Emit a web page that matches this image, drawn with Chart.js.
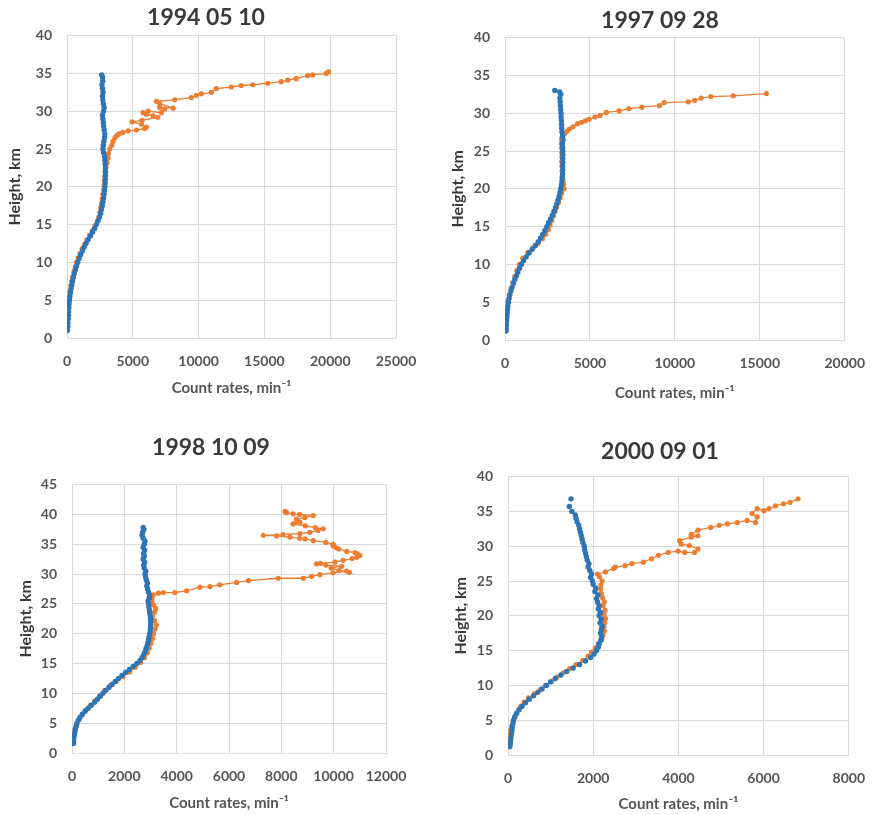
<!DOCTYPE html>
<html>
<head>
<meta charset="utf-8">
<script src="https://cdn.jsdelivr.net/npm/chart.js@4.4.1/dist/chart.umd.min.js"></script>
<style>
	body { margin: 0; background: #fff; }
	canvas { position: absolute; }
</style>
</head>
<body>
<canvas id="p1" width="440" height="410" style="left:0;top:0"></canvas>
<canvas id="p2" width="440" height="410" style="left:440px;top:0"></canvas>
<canvas id="p3" width="440" height="405" style="left:0;top:410px"></canvas>
<canvas id="p4" width="440" height="405" style="left:440px;top:410px"></canvas>
<script>
// [height km, count rate min-1]
const blue1994 = [[1.0,40],[1.5,60],[2.0,70],[2.5,90],[3.0,110],[3.5,120],[4.0,140],[4.5,160],[5.0,190],[5.5,220],[6.0,260],[6.5,310],[7.0,360],[7.5,420],[8.0,480],[8.5,550],[9.0,630],[9.5,720],[10.0,810],[10.5,920],[11.0,1040],[11.5,1170],[12.0,1300],[12.5,1450],[13.0,1600],[13.5,1770],[14.0,1940],[14.5,2100],[15.0,2230],[15.5,2360],[16.0,2470],[16.5,2560],[17.0,2620],[17.5,2680],[18.0,2730],[18.5,2780],[19.0,2820],[19.5,2850],[20.0,2880],[20.5,2900],[21.0,2910],[21.5,2920],[22.0,2930],[22.5,2920],[23.0,2900],[23.5,2880],[24.0,2850],[24.5,2780],[25.0,2730],[25.5,2760],[26.0,2800],[26.5,2850],[27.0,2870],[27.5,2820],[28.0,2780],[28.5,2760],[29.0,2720],[29.5,2700],[30.0,2780],[30.5,2820],[31.0,2760],[31.5,2720],[32.0,2700],[32.5,2740],[33.0,2700],[33.5,2660],[34.0,2720],[34.5,2700],[34.8,2640]];
const orange1994 = [[2.2,20],[2.8,40],[3.5,70],[4.2,100],[4.9,130],[5.5,170],[6.2,230],[6.9,300],[7.5,360],[8.1,430],[8.8,530],[9.4,620],[10.0,730],[10.6,850],[11.2,990],[11.8,1150],[12.4,1330],[13.0,1520],[13.6,1720],[14.2,1920],[14.8,2120],[15.4,2300],[16.0,2420],[16.6,2500],[17.2,2560],[17.8,2620],[18.4,2680],[19.0,2730],[19.6,2780],[20.2,2820],[20.8,2850],[21.4,2880],[22.0,2900],[22.6,2950],[23.2,3050],[23.8,3120],[24.4,3150],[25.0,3250],[25.5,3400],[26.0,3500],[26.5,3650],[26.8,3800],[27.0,3950],[27.2,4250],[27.4,4650],[27.5,5280],[27.7,5900],[27.9,6040],[28.3,5650],[28.6,4950],[28.8,5700],[29.2,6900],[29.4,6540],[29.6,6040],[29.8,5780],[30.0,6160],[29.8,7180],[30.3,7430],[30.5,7050],[30.4,8060],[31.0,7050],[31.3,6800],[31.5,8190],[31.8,9450],[32.1,9830],[32.3,10210],[32.5,10970],[33.0,11350],[33.2,12480],[33.4,13240],[33.5,14120],[33.7,15260],[33.9,16270],[34.1,16780],[34.3,17410],[34.7,18290],[34.8,18670],[35.0,19690],[35.2,19880]];

const blue1997 = [[1.2,60],[1.5,70],[2.0,80],[2.5,100],[3.0,110],[3.5,130],[4.0,150],[4.5,170],[5.0,200],[5.5,240],[6.0,290],[6.5,350],[7.0,420],[7.5,500],[8.0,580],[8.5,670],[9.0,760],[9.5,860],[10.0,970],[10.5,1100],[11.0,1250],[11.5,1420],[12.0,1600],[12.5,1790],[13.0,1960],[13.5,2100],[14.0,2230],[14.5,2350],[15.0,2460],[15.5,2570],[16.0,2680],[16.5,2790],[17.0,2880],[17.5,2970],[18.0,3050],[18.5,3120],[19.0,3180],[19.5,3230],[20.0,3280],[20.5,3320],[21.0,3350],[21.5,3370],[22.0,3390],[22.5,3400],[23.0,3400],[23.5,3410],[24.0,3400],[24.5,3410],[25.0,3400],[25.5,3390],[26.0,3380],[26.5,3420],[27.0,3390],[27.5,3350],[28.0,3340],[28.5,3330],[29.0,3320],[29.5,3300],[30.0,3300],[30.5,3280],[31.0,3260],[31.5,3250],[32.0,3230],[32.5,3280],[32.8,3220],[33.0,2930]];
const orange1997 = [[1.3,20],[2.0,30],[2.8,50],[3.6,80],[4.4,120],[5.2,180],[6.0,260],[6.8,360],[7.6,460],[8.4,580],[9.2,700],[10.0,850],[10.8,1050],[11.6,1350],[12.2,1650],[12.8,1950],[13.4,2200],[14.0,2400],[14.6,2550],[15.2,2650],[15.8,2750],[16.4,2850],[17.0,2950],[17.6,3050],[18.2,3150],[18.8,3250],[19.4,3330],[20.0,3480],[20.6,3450],[21.2,3420],[21.8,3380],[22.4,3360],[23.0,3350],[23.6,3340],[24.2,3350],[24.8,3340],[25.4,3330],[26.0,3320],[26.6,3330],[27.0,3380],[27.3,3500],[27.6,3650],[27.9,3790],[28.2,4000],[28.6,4260],[28.8,4500],[29.0,4730],[29.2,4950],[29.5,5300],[29.7,5600],[30.1,5960],[30.3,6720],[30.6,7290],[30.8,8050],[31.0,9090],[31.4,9370],[31.5,10790],[31.7,11170],[32.0,11550],[32.2,12120],[32.3,13440],[32.6,15390]];

const blue1998 = [[1.6,50],[2.0,60],[2.5,70],[3.0,90],[3.5,110],[4.0,130],[4.5,160],[5.0,190],[5.5,240],[6.0,310],[6.5,400],[7.0,500],[7.5,620],[8.0,740],[8.5,860],[9.0,970],[9.5,1080],[10.0,1180],[10.5,1290],[11.0,1410],[11.5,1530],[12.0,1650],[12.5,1780],[13.0,1910],[13.5,2050],[14.0,2190],[14.5,2340],[15.0,2480],[15.5,2600],[16.0,2680],[16.5,2740],[17.0,2790],[17.5,2830],[18.0,2870],[18.5,2900],[19.0,2930],[19.5,2950],[20.0,2970],[20.5,2990],[21.0,3000],[21.5,3010],[22.0,3010],[22.5,3000],[23.0,2990],[23.5,2970],[24.0,2960],[24.5,2940],[25.0,2930],[25.5,2910],[26.0,2950],[26.5,2970],[27.0,2920],[27.5,2890],[28.0,2860],[28.5,2880],[29.0,2840],[29.5,2810],[30.0,2790],[30.5,2820],[31.0,2760],[31.5,2740],[32.0,2780],[32.5,2720],[33.0,2760],[33.5,2740],[34.0,2780],[34.5,2720],[35.0,2760],[35.5,2790],[36.0,2720],[36.5,2680],[37.0,2700],[37.5,2750],[37.8,2720]];
const orange1998 = [[1.8,30],[2.5,50],[3.2,80],[4.0,120],[4.8,180],[5.6,270],[6.4,380],[7.2,520],[8.0,700],[8.8,880],[9.6,1050],[10.4,1230],[11.2,1440],[12.0,1690],[12.8,1950],[13.6,2200],[14.4,2420],[15.2,2620],[16.0,2770],[16.8,2880],[17.6,2950],[18.4,3020],[19.2,3080],[20.0,3120],[20.8,3180],[21.5,3230],[22.2,3150],[23.0,3080],[23.6,3150],[24.2,3200],[24.8,3120],[25.4,3050],[26.0,3060],[26.5,3100],[26.8,3300],[26.9,3490],[26.9,3930],[27.2,4380],[27.8,4890],[27.9,5270],[28.2,5650],[28.6,6290],[28.9,6740],[29.3,7880],[29.3,8840],[29.6,9160],[29.9,9470],[30.2,9980],[30.5,10490],[30.3,10600],[30.6,10200],[31.0,9900],[31.3,10300],[31.5,9700],[31.7,9350],[31.8,9500],[32.0,10050],[32.3,10360],[32.6,10700],[32.8,10880],[33.1,11000],[33.4,10900],[33.6,10810],[33.8,10500],[34.2,10200],[34.4,10110],[34.7,9980],[35.0,9980],[35.3,9700],[35.6,9220],[35.9,8900],[36.0,8700],[36.2,8330],[36.4,7820],[36.5,7310],[36.6,8070],[36.8,8710],[37.0,9090],[37.3,9400],[37.6,9600],[37.8,9300],[38.1,8920],[38.4,8450],[38.7,8710],[39.0,8600],[39.2,8580],[39.5,8900],[39.8,9220],[40.0,8700],[40.1,8450],[40.3,8200],[40.5,8140]];

const blue2000 = [[1.2,40],[1.5,50],[2.0,60],[2.5,70],[3.0,80],[3.5,90],[4.0,100],[4.5,115],[5.0,130],[5.5,160],[6.0,200],[6.5,260],[7.0,330],[7.5,410],[8.0,500],[8.5,600],[9.0,700],[9.5,800],[10.0,900],[10.5,1000],[11.0,1110],[11.5,1240],[12.0,1380],[12.5,1530],[13.0,1680],[13.5,1820],[14.0,1940],[14.5,2020],[15.0,2080],[15.5,2120],[16.0,2130],[16.5,2180],[17.0,2200],[17.5,2170],[18.0,2190],[18.5,2210],[19.0,2160],[19.5,2190],[20.0,2140],[20.5,2170],[21.0,2120],[21.5,2140],[22.0,2100],[22.5,2080],[23.0,2110],[23.5,2040],[24.0,2060],[24.5,2000],[25.0,1980],[25.5,1940],[26.0,1960],[26.5,1920],[27.0,1880],[27.5,1900],[28.0,1860],[28.5,1840],[29.0,1820],[29.5,1800],[30.0,1790],[30.5,1760],[31.0,1740],[31.5,1720],[32.0,1700],[32.5,1680],[33.0,1660],[33.5,1620],[34.0,1600],[34.5,1580],[35.0,1500],[35.7,1440],[36.8,1480]];
const orange2000 = [[1.5,30],[2.2,40],[3.0,50],[3.6,70],[4.2,90],[4.8,120],[5.4,160],[6.0,210],[6.6,260],[7.0,300],[7.6,380],[8.2,480],[8.8,620],[9.4,760],[10.0,880],[10.6,1020],[11.2,1150],[11.8,1300],[12.4,1450],[13.0,1600],[13.6,1760],[14.2,1880],[14.8,1960],[15.4,2050],[16.0,2150],[16.6,2200],[17.2,2230],[17.8,2260],[18.4,2250],[19.0,2270],[19.6,2290],[20.2,2250],[20.8,2280],[21.4,2230],[22.0,2260],[22.6,2220],[23.2,2190],[23.8,2170],[24.4,2180],[25.0,2210],[25.6,2150],[26.0,2100],[26.3,2290],[26.8,2480],[27.0,2520],[27.2,2750],[27.5,2910],[27.7,3180],[28.2,3370],[28.7,3530],[29.1,3760],[29.3,3990],[29.1,4150],[29.1,4380],[29.6,4460],[30.1,4260],[30.3,4070],[30.8,4030],[31.3,4300],[31.5,4460],[31.7,4300],[32.3,4460],[32.7,4760],[33.0,4960],[33.2,5150],[33.4,5380],[33.7,5610],[33.4,5810],[34.2,5850],[34.7,5730],[35.4,5850],[35.1,6010],[35.4,6130],[35.8,6280],[36.1,6470],[36.3,6620],[36.8,6810]];

const titles = ["1994 05 10", "1997 09 28", "1998 10 09", "2000 09 01"];
const xMax = [25000, 20000, 12000, 8000];
const xStep = [5000, 5000, 2000, 2000];
const yMax = [40, 40, 45, 40];

const BLUE = "#2E75B6";
const ORANGE = "#ED7D31";
const GRID = "#d9d9d9";
const TICK = "#555555";

function toPoints(rows) {
	return rows.map(r => ({ x: r[1], y: r[0] }));
}

// lay = placement of each panel so the plot boxes land where the original has them
function makePanel(id, i, blue, orange, lay) {
	const ctx = document.getElementById(id).getContext("2d");
	return new Chart(ctx, {
		type: "scatter",
		data: {
			datasets: [
				{
					data: toPoints(blue),
					showLine: false,
					pointRadius: 2.7,
					pointBorderWidth: 0,
					backgroundColor: BLUE,
					borderColor: BLUE,
				},
				{
					data: toPoints(orange),
					showLine: true,
					borderWidth: 1.3,
					pointRadius: 2.6,
					pointBorderWidth: 0,
					backgroundColor: ORANGE,
					borderColor: ORANGE,
				},
			],
		},
		options: {
			responsive: false,
			animation: false,
			layout: { padding: { left: lay.pl, right: lay.pr, top: 0, bottom: 0 } },
			plugins: {
				legend: { display: false },
				tooltip: { enabled: false },
				title: {
					display: true,
					text: titles[i],
					color: "#3a3a3a",
					font: { family: "Lato", size: 23, weight: "bold" },
					padding: { top: lay.tt, bottom: lay.tb },
				},
			},
			scales: {
				x: {
					type: "linear",
					min: 0,
					max: xMax[i],
					ticks: {
						stepSize: xStep[i],
						color: TICK,
						padding: 15,
						maxRotation: 0,
						font: { family: "Lato", size: 14, weight: "bold" },
						callback: v => v,
					},
					grid: { color: GRID, drawTicks: false },
					border: { color: GRID },
					title: {
						display: true,
						text: "Count rates, min⁻¹",
						color: TICK,
						font: { family: "Lato", size: 15, weight: "bold" },
						padding: { top: 0, bottom: lay.xb },
					},
					afterFit: s => { s.height = lay.xh; },
				},
				y: {
					type: "linear",
					min: 0,
					max: yMax[i],
					ticks: {
						stepSize: 5,
						color: TICK,
						padding: 15,
						font: { family: "Lato", size: 14, weight: "bold" },
					},
					grid: { color: GRID, drawTicks: false },
					border: { color: GRID },
					title: {
						display: true,
						text: "Height, km",
						color: "#3a3a3a",
						font: { family: "Lato", size: 16, weight: "bold" },
						padding: { top: lay.yt, bottom: 0 },
					},
					afterFit: s => { s.width = lay.yw; },
				},
			},
		},
	});
}

makePanel("p1", 0, blue1994, orange1994, { pl: 16, pr: 44, yw: 51, yt: -10.6, tt: 4.2, tb: 3.8, xh: 72, xb: 13 });
makePanel("p2", 1, blue1997, orange1997, { pl: 23, pr: 23, yw: 42, yt: -14.6, tt: 6.7, tb: 3.3, xh: 70, xb: 8 });
makePanel("p3", 2, blue1998, orange1998, { pl: 36, pr: 54, yw: 36, yt: -19.6, tt: 24.2, tb: 22.8, xh: 62, xb: 3 });
makePanel("p4", 3, blue2000, orange2000, { pl: 27, pr: 27, yw: 41, yt: -15.6, tt: 28.2, tb: 10.8, xh: 60, xb: 2 });
</script>
</body>
</html>
